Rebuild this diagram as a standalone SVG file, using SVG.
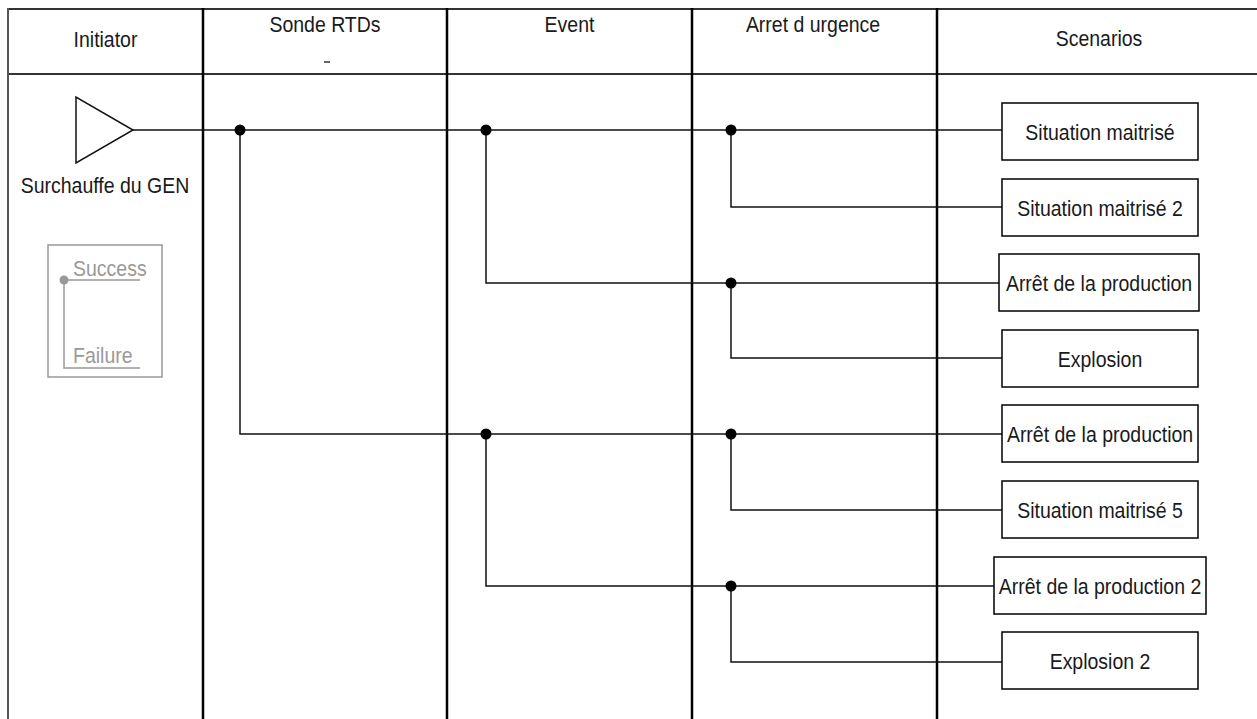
<svg xmlns="http://www.w3.org/2000/svg" width="1257" height="719" viewBox="0 0 1257 719">
<style>
text{font-family:"Liberation Sans",Arial,sans-serif;font-size:22.4px;fill:#1a1a1a}
.hd{text-anchor:middle}
.col{stroke:#000;stroke-width:2.5;fill:none}
.hl{stroke:#333;stroke-width:2;fill:none}
.bx rect{fill:#fff;stroke:#000;stroke-width:1.5}
.bx text{text-anchor:middle}
.cn{stroke:#111;stroke-width:1.5;fill:none}
.dot{fill:#000}
.lg{stroke:#999;stroke-width:1.5;fill:none}
.lgt{fill:#999}
</style>
<rect width="1257" height="719" fill="#fff"/>
<g id="lanes">
<line x1="8" y1="9" x2="1257" y2="9" class="hl"/>
<line x1="8" y1="74" x2="1257" y2="74" class="hl"/>
<line x1="8" y1="8" x2="8" y2="719" stroke="#555" stroke-width="2"/>
<line x1="203" y1="8" x2="203" y2="719" class="col"/>
<line x1="447" y1="8" x2="447" y2="719" class="col"/>
<line x1="692" y1="8" x2="692" y2="719" class="col"/>
<line x1="937" y1="8" x2="937" y2="719" class="col"/>
<text transform="translate(105.5,47) scale(0.87,1)" class="hd">Initiator</text>
<text transform="translate(325,32) scale(0.87,1)" class="hd">Sonde RTDs</text>
<line x1="324" y1="62" x2="330" y2="62" stroke="#333" stroke-width="1.5"/>
<text transform="translate(569.5,32) scale(0.87,1)" class="hd">Event</text>
<text transform="translate(813,32) scale(0.87,1)" class="hd">Arret d urgence</text>
<text transform="translate(1099,46) scale(0.87,1)" class="hd">Scenarios</text>
</g>
<g id="initiator">
<polygon points="76,97 76,163 133,130" fill="#fff" stroke="#111" stroke-width="1.5"/>
<text transform="translate(105,193) scale(0.87,1)" class="hd">Surchauffe du GEN</text>
</g>
<g id="legend">
<rect x="48" y="245" width="114" height="132" class="lg"/>
<polyline points="140,280 64,280 64,368 140,368" class="lg"/>
<circle cx="64" cy="280" r="4.5" fill="#999"/>
<text transform="translate(73,276) scale(0.87,1)" class="lgt">Success</text>
<text transform="translate(73,363) scale(0.87,1)" class="lgt">Failure</text>
</g>
<g id="connectors">
<line x1="133" y1="130" x2="1002" y2="130" class="cn"/>
<polyline points="240,130 240,434 1002,434" class="cn"/>
<polyline points="486,130 486,283 999,283" class="cn"/>
<polyline points="731,130 731,207 1002,207" class="cn"/>
<polyline points="731,283 731,358 1002,358" class="cn"/>
<polyline points="486,434 486,586 994,586" class="cn"/>
<polyline points="731,434 731,510 1002,510" class="cn"/>
<polyline points="731,586 731,662 1002,662" class="cn"/>
<circle cx="240" cy="130" r="5.5" class="dot"/>
<circle cx="486" cy="130" r="5.5" class="dot"/>
<circle cx="731" cy="130" r="5.5" class="dot"/>
<circle cx="731" cy="283" r="5.5" class="dot"/>
<circle cx="486" cy="434" r="5.5" class="dot"/>
<circle cx="731" cy="434" r="5.5" class="dot"/>
<circle cx="731" cy="586" r="5.5" class="dot"/>
</g>
<g id="s1" class="bx"><rect x="1002" y="103" width="196" height="57"/><text transform="translate(1100,140) scale(0.87,1)">Situation maitrisé</text></g>
<g id="s2" class="bx"><rect x="1002" y="179" width="196" height="57"/><text transform="translate(1100,216) scale(0.87,1)">Situation maitrisé 2</text></g>
<g id="s3" class="bx"><rect x="999" y="254" width="200" height="57"/><text transform="translate(1099,291) scale(0.87,1)">Arrêt de la production</text></g>
<g id="s4" class="bx"><rect x="1002" y="330" width="196" height="57"/><text transform="translate(1100,367) scale(0.87,1)">Explosion</text></g>
<g id="s5" class="bx"><rect x="1002" y="405" width="196" height="57"/><text transform="translate(1100,442) scale(0.87,1)">Arrêt de la production</text></g>
<g id="s6" class="bx"><rect x="1002" y="481" width="196" height="57"/><text transform="translate(1100,518) scale(0.87,1)">Situation maitrisé 5</text></g>
<g id="s7" class="bx"><rect x="994" y="557" width="212" height="57"/><text transform="translate(1100,594) scale(0.87,1)">Arrêt de la production 2</text></g>
<g id="s8" class="bx"><rect x="1002" y="632" width="196" height="57"/><text transform="translate(1100,669) scale(0.87,1)">Explosion 2</text></g>
</svg>
